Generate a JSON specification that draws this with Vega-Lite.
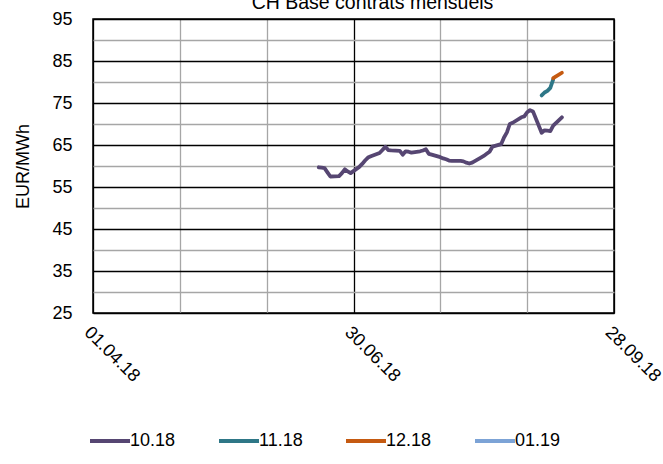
{
  "$schema": "https://vega.github.io/schema/vega-lite/v6.json",
  "autosize": "none",
  "width": 521,
  "height": 294,
  "padding": {"left": 93, "top": 19, "right": 49, "bottom": 151},
  "background": "white",
  "title": {"text": "CH Base contrats mensuels", "fontSize": 19.5, "font": "Liberation Sans", "fontWeight": "normal", "color": "black", "anchor": "middle", "offset": -3, "dx": 19},
  "config": {
    "view": {"stroke": "black", "strokeWidth": 1.5},
    "font": "Liberation Sans"
  },
  "data": {"values": [
    {"date": "2018-06-18", "contract": "10.18", "price": 59.7},
    {"date": "2018-06-19", "contract": "10.18", "price": 59.6},
    {"date": "2018-06-20", "contract": "10.18", "price": 59.5},
    {"date": "2018-06-21", "contract": "10.18", "price": 58.5},
    {"date": "2018-06-22", "contract": "10.18", "price": 57.5},
    {"date": "2018-06-25", "contract": "10.18", "price": 57.6},
    {"date": "2018-06-26", "contract": "10.18", "price": 58.3},
    {"date": "2018-06-27", "contract": "10.18", "price": 59.2},
    {"date": "2018-06-28", "contract": "10.18", "price": 58.7},
    {"date": "2018-06-29", "contract": "10.18", "price": 58.3},
    {"date": "2018-07-02", "contract": "10.18", "price": 59.8},
    {"date": "2018-07-03", "contract": "10.18", "price": 60.5},
    {"date": "2018-07-04", "contract": "10.18", "price": 61.3},
    {"date": "2018-07-05", "contract": "10.18", "price": 62.0},
    {"date": "2018-07-06", "contract": "10.18", "price": 62.3},
    {"date": "2018-07-09", "contract": "10.18", "price": 63.1},
    {"date": "2018-07-10", "contract": "10.18", "price": 63.8},
    {"date": "2018-07-11", "contract": "10.18", "price": 64.6},
    {"date": "2018-07-12", "contract": "10.18", "price": 63.8},
    {"date": "2018-07-13", "contract": "10.18", "price": 63.7},
    {"date": "2018-07-16", "contract": "10.18", "price": 63.6},
    {"date": "2018-07-17", "contract": "10.18", "price": 62.7},
    {"date": "2018-07-18", "contract": "10.18", "price": 63.5},
    {"date": "2018-07-19", "contract": "10.18", "price": 63.4},
    {"date": "2018-07-20", "contract": "10.18", "price": 63.2},
    {"date": "2018-07-23", "contract": "10.18", "price": 63.5},
    {"date": "2018-07-24", "contract": "10.18", "price": 63.7},
    {"date": "2018-07-25", "contract": "10.18", "price": 64.0},
    {"date": "2018-07-26", "contract": "10.18", "price": 62.9},
    {"date": "2018-07-27", "contract": "10.18", "price": 62.7},
    {"date": "2018-07-30", "contract": "10.18", "price": 62.1},
    {"date": "2018-07-31", "contract": "10.18", "price": 61.8},
    {"date": "2018-08-01", "contract": "10.18", "price": 61.6},
    {"date": "2018-08-02", "contract": "10.18", "price": 61.3},
    {"date": "2018-08-03", "contract": "10.18", "price": 61.2},
    {"date": "2018-08-06", "contract": "10.18", "price": 61.2},
    {"date": "2018-08-07", "contract": "10.18", "price": 61.1},
    {"date": "2018-08-08", "contract": "10.18", "price": 60.8},
    {"date": "2018-08-09", "contract": "10.18", "price": 60.6},
    {"date": "2018-08-10", "contract": "10.18", "price": 60.8},
    {"date": "2018-08-13", "contract": "10.18", "price": 62.0},
    {"date": "2018-08-14", "contract": "10.18", "price": 62.4},
    {"date": "2018-08-15", "contract": "10.18", "price": 62.9},
    {"date": "2018-08-16", "contract": "10.18", "price": 63.4},
    {"date": "2018-08-17", "contract": "10.18", "price": 64.6},
    {"date": "2018-08-20", "contract": "10.18", "price": 65.2},
    {"date": "2018-08-21", "contract": "10.18", "price": 66.8},
    {"date": "2018-08-22", "contract": "10.18", "price": 68.0},
    {"date": "2018-08-23", "contract": "10.18", "price": 70.0},
    {"date": "2018-08-24", "contract": "10.18", "price": 70.3},
    {"date": "2018-08-27", "contract": "10.18", "price": 71.6},
    {"date": "2018-08-28", "contract": "10.18", "price": 71.8},
    {"date": "2018-08-29", "contract": "10.18", "price": 72.8},
    {"date": "2018-08-30", "contract": "10.18", "price": 73.3},
    {"date": "2018-08-31", "contract": "10.18", "price": 73.0},
    {"date": "2018-09-03", "contract": "10.18", "price": 67.9},
    {"date": "2018-09-04", "contract": "10.18", "price": 68.5},
    {"date": "2018-09-05", "contract": "10.18", "price": 68.4},
    {"date": "2018-09-06", "contract": "10.18", "price": 68.3},
    {"date": "2018-09-07", "contract": "10.18", "price": 69.6},
    {"date": "2018-09-10", "contract": "10.18", "price": 71.6},
    {"date": "2018-09-03", "contract": "11.18", "price": 76.8},
    {"date": "2018-09-04", "contract": "11.18", "price": 77.5},
    {"date": "2018-09-05", "contract": "11.18", "price": 77.9},
    {"date": "2018-09-06", "contract": "11.18", "price": 78.6},
    {"date": "2018-09-07", "contract": "11.18", "price": 80.6},
    {"date": "2018-09-07", "contract": "12.18", "price": 80.9},
    {"date": "2018-09-10", "contract": "12.18", "price": 82.2}
  ]},
  "mark": {"type": "line", "strokeWidth": 3.8, "strokeCap": "round", "strokeJoin": "round"},
  "encoding": {
    "x": {
      "field": "date",
      "type": "temporal",
      "scale": {"type": "utc", "domain": [{"year": 2018, "month": 4, "date": 1, "utc": true}, {"year": 2018, "month": 9, "date": 28, "utc": true}]},
      "axis": {
        "title": null,
        "values": [
          {"year": 2018, "month": 4, "date": 1, "utc": true},
          {"year": 2018, "month": 5, "date": 1, "utc": true},
          {"year": 2018, "month": 5, "date": 31, "utc": true},
          {"year": 2018, "month": 6, "date": 30, "utc": true},
          {"year": 2018, "month": 7, "date": 30, "utc": true},
          {"year": 2018, "month": 8, "date": 29, "utc": true},
          {"year": 2018, "month": 9, "date": 28, "utc": true}
        ],
        "labelExpr": "(datum.value - utc(2018,3,1)) % 7776000000 == 0 ? utcFormat(datum.value, '%d.%m.%y') : ''",
        "gridColor": {"condition": {"test": "(datum.value - utc(2018,3,1)) % 7776000000 == 0", "value": "black"}, "value": "#a6a6a6"},
        "gridWidth": 1.3,
        "grid": true,
        "domain": false,
        "ticks": false,
        "labelAngle": 45,
        "labelAlign": "left",
        "labelBaseline": "top",
        "labelPadding": 10,
        "labelFontSize": 18,
        "labelColor": "black",
        "labelFont": "Liberation Sans",
        "labelOverlap": false,
        "labelBound": false,
        "labelFlush": false
      }
    },
    "y": {
      "field": "price",
      "type": "quantitative",
      "scale": {"domain": [25, 95], "nice": false, "zero": false},
      "axis": {
        "title": "EUR/MWh",
        "titleFontSize": 18,
        "titleFont": "Liberation Sans",
        "titleFontWeight": "normal",
        "titleColor": "black",
        "titlePadding": 19,
        "values": [25, 30, 35, 40, 45, 50, 55, 60, 65, 70, 75, 80, 85, 90, 95],
        "labelExpr": "datum.value % 10 == 5 ? datum.label : ''",
        "gridColor": {"condition": {"test": "datum.value % 10 == 5", "value": "black"}, "value": "#a6a6a6"},
        "gridWidth": 1.3,
        "grid": true,
        "domain": false,
        "ticks": false,
        "labelPadding": 21,
        "labelFontSize": 18,
        "labelColor": "black",
        "labelFont": "Liberation Sans",
        "labelOverlap": false,
        "labelFlush": false,
        "labelBound": false
      }
    },
    "color": {
      "field": "contract",
      "type": "nominal",
      "scale": {"domain": ["10.18", "11.18", "12.18", "01.19"], "range": ["#564672", "#2e7787", "#c55a11", "#7ca3d6"]},
      "legend": {
        "title": null,
        "orient": "none",
        "legendX": -5,
        "legendY": 400,
        "direction": "horizontal",
        "symbolType": "stroke",
        "symbolSize": 1600,
        "symbolStrokeWidth": 3.8,
        "labelFontSize": 18,
        "labelFont": "Liberation Sans",
        "labelColor": "black",
        "labelOffset": -2,
        "columnPadding": 35
      }
    }
  }
}
